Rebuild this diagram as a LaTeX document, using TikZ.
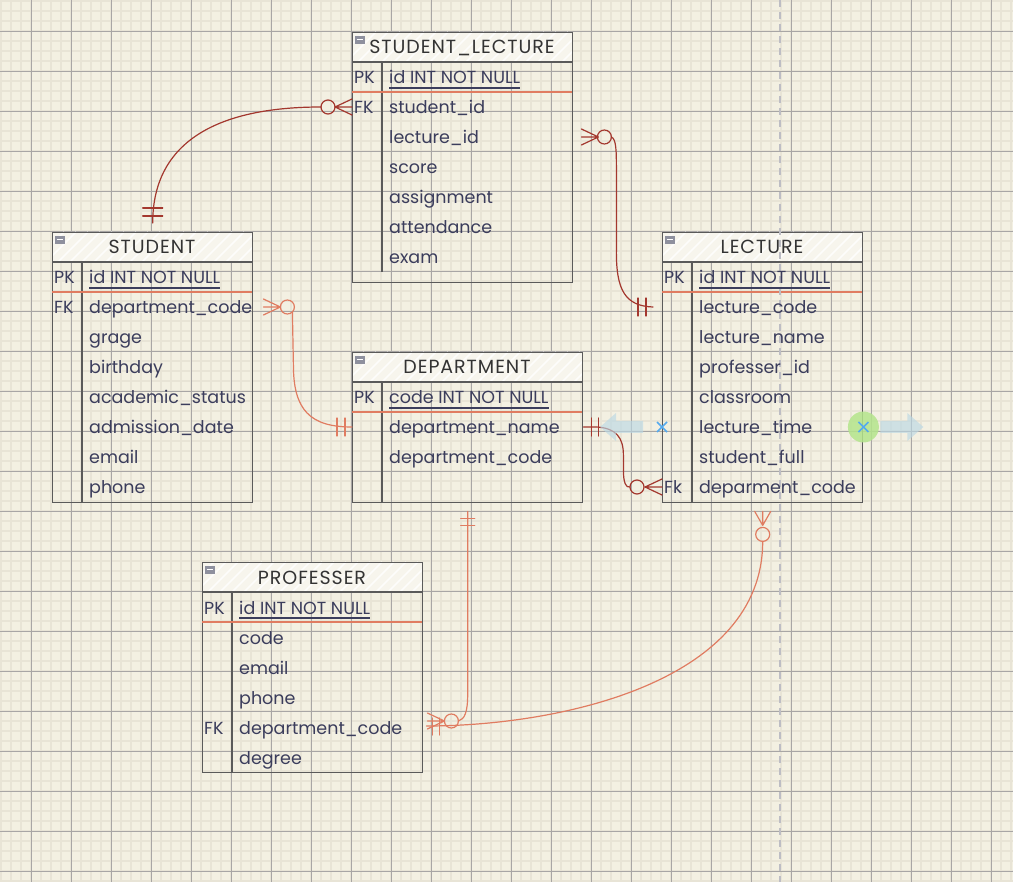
\documentclass[tikz,border=0pt]{standalone}
\usepackage{fontspec}
\setmainfont{Poppins}
\usetikzlibrary{calc}

\definecolor{paper}{HTML}{F3F0E2}
\definecolor{minorgrid}{HTML}{E8E4D6}
\definecolor{majorgrid}{HTML}{A8A6A5}
\definecolor{border}{HTML}{5A5A5A}
\definecolor{headfill}{HTML}{F7F5ED}
\definecolor{ink}{HTML}{3B3D5C}
\definecolor{titleink}{HTML}{333333}
\definecolor{relred}{HTML}{A3372E}
\definecolor{relsalmon}{HTML}{E07C61}
\definecolor{iconfill}{HTML}{8E909E}
\definecolor{hintblue}{HTML}{BBD8E4}
\definecolor{crossblue}{HTML}{55AAEE}
\definecolor{hotgreen}{HTML}{B4E58C}
\definecolor{guide}{HTML}{BDBDC4}

\newcommand\fieldfont{\fontsize{17.5}{20}\selectfont}
\newcommand\titlefont{\fontsize{19}{21}\selectfont\addfontfeature{LetterSpace=5}}

\tikzset{
  tbl/.style={draw=border, line width=1.4pt, rectangle, inner sep=0pt, anchor=north west},
  rule/.style={draw=border, line width=1.4pt},
  pkrule/.style={draw=relsalmon, line width=1.3pt},
  hatch/.style={draw=white, line width=1.6pt, opacity=0.8},
  fieldtxt/.style={anchor=base west, inner sep=0pt, text=ink, font=\fieldfont},
  titletxt/.style={anchor=base, inner sep=0pt, text=titleink, font=\titlefont},
  rel/.style={line width=1.2pt, line cap=round, fill=none},
  dark/.style={rel, draw=relred},
  soft/.style={rel, draw=relsalmon},
}

% table frame: name, x, y, width, height, title, bottom of the key column rule
\newcommand\ertable[7]{%
  \fill[headfill] (#2,#3) rectangle ++(#4,30);
  \begin{scope}
    \clip (#2,#3) rectangle ++(#4,30);
    \foreach \h in {-30,-18,...,260} \draw[hatch] ($(#2,#3)+(\h,30)$) -- ++(30,-30);
  \end{scope}
  \node[tbl, minimum width=#4pt, minimum height=#5pt] (#1) at (#2,#3) {};
  \draw[rule] (#2,#3+30) -- ++(#4,0);
  \draw[rule] (#2+30,#3+30) -- (#2+30,#7);
  \draw[pkrule] (#2,#3+60) -- ++(#4,0);
  \fill[iconfill] (#2+3,#3+4) rectangle ++(10,8);
  \draw[white, line width=1pt] (#2+5,#3+8) -- ++(6,0);
  \node[titletxt] (#1-title) at (#2+#4/2,#3+22) {#6};
}
% one field row: table, row number, text
\newcommand\erfield[3]{%
  \coordinate (#1-w#2) at ($(#1.north west)+(0,15+30*#2)$);
  \coordinate (#1-e#2) at ($(#1.north east)+(0,15+30*#2)$);
  \node[fieldtxt] (#1-f#2) at ($(#1.north west)+(37,22+30*#2)$) {#3};
}
% key label in the first column: table, row number, key
\newcommand\erkey[3]{%
  \node[fieldtxt] (#1-k#2) at ($(#1.north west)+(2,22+30*#2)$) {#3};
}
% underline of the primary key field
\newcommand\erpk[1]{%
  \draw[ink, line width=1.4pt] ($(#1-f1.base west)+(0,4)$) -- ($(#1-f1.base east)+(0,4)$);
}

\begin{document}
\begin{tikzpicture}[x=1pt, y=-1pt]
  \useasboundingbox (0,0) rectangle (1013,882);
  \fill[paper] (0,0) rectangle (1013,882);

  % paper grid
  \foreach \g in {1,11,...,1011} \draw[minorgrid, line width=1.8pt] (\g,0) -- (\g,882);
  \foreach \g in {1,11,...,881} \draw[minorgrid, line width=1.8pt] (0,\g) -- (1013,\g);
  \foreach \g in {31,71,...,1011} \draw[majorgrid, line width=0.9pt] (\g,0) -- (\g,882);
  \foreach \g in {31,71,...,871} \draw[majorgrid, line width=0.9pt] (0,\g) -- (1013,\g);

  % tables
  \ertable{sl}{352}{32}{220}{250}{STUDENT\_LECTURE}{272}
  \ertable{stu}{52}{232}{200}{270}{STUDENT}{502}
  \ertable{dep}{352}{352}{230}{150}{DEPARTMENT}{502}
  \ertable{lec}{662}{232}{200}{270}{LECTURE}{502}
  \ertable{prof}{202}{562}{220}{210}{PROFESSER}{772}

  % vertical guide
  \draw[guide, line width=1.5pt, dash pattern=on 7pt off 5pt] (780,0) -- (780,882);

  % STUDENT_LECTURE
  \erfield{sl}{1}{id INT NOT NULL}\erkey{sl}{1}{PK}\erpk{sl}
  \erfield{sl}{2}{student\_id}\erkey{sl}{2}{FK}
  \erfield{sl}{3}{lecture\_id}
  \erfield{sl}{4}{score}
  \erfield{sl}{5}{assignment}
  \erfield{sl}{6}{attendance}
  \erfield{sl}{7}{exam}

  % STUDENT
  \erfield{stu}{1}{id INT NOT NULL}\erkey{stu}{1}{PK}\erpk{stu}
  \erfield{stu}{2}{department\_code}\erkey{stu}{2}{FK}
  \erfield{stu}{3}{grage}
  \erfield{stu}{4}{birthday}
  \erfield{stu}{5}{academic\_status}
  \erfield{stu}{6}{admission\_date}
  \erfield{stu}{7}{email}
  \erfield{stu}{8}{phone}

  % DEPARTMENT
  \erfield{dep}{1}{code INT NOT NULL}\erkey{dep}{1}{PK}\erpk{dep}
  \erfield{dep}{2}{department\_name}
  \erfield{dep}{3}{department\_code}

  % LECTURE
  \erfield{lec}{1}{id INT NOT NULL}\erkey{lec}{1}{PK}\erpk{lec}
  \erfield{lec}{2}{lecture\_code}
  \erfield{lec}{3}{lecture\_name}
  \erfield{lec}{4}{professer\_id}
  \erfield{lec}{5}{classroom}
  \erfield{lec}{6}{lecture\_time}
  \erfield{lec}{7}{student\_full}
  \erfield{lec}{8}{deparment\_code}\erkey{lec}{8}{Fk}

  % PROFESSER
  \erfield{prof}{1}{id INT NOT NULL}\erkey{prof}{1}{PK}\erpk{prof}
  \erfield{prof}{2}{code}
  \erfield{prof}{3}{email}
  \erfield{prof}{4}{phone}
  \erfield{prof}{5}{department\_code}\erkey{prof}{5}{FK}
  \erfield{prof}{6}{degree}

  % STUDENT (one) -- STUDENT_LECTURE.student_id (zero or many)
  \draw[dark] ($(stu.north)+(0,-9)$) .. controls ($(stu.north)+(0,-92)$) and ($(sl-w2)+(-132,0)$) .. ($(sl-w2)+(-31,0)$);
  \draw[dark] ($(stu.north)+(-10,-16)$) -- ++(20,0) ($(stu.north)+(-10,-24)$) -- ++(20,0);
  \draw[dark] ($(sl-w2)+(-24,0)$) circle[radius=7];
  \draw[dark] ($(sl-w2)+(-17,0)$) -- (sl-w2) ($(sl-w2)+(-17,0)$) -- ($(sl-w2)+(0,-8)$) ($(sl-w2)+(-17,0)$) -- ($(sl-w2)+(0,8)$);

  % STUDENT_LECTURE.lecture_id (zero or many) -- LECTURE (one)
  \draw[dark] ($(sl-e3)+(8,-8)$) -- ($(sl-e3)+(25,0)$) ($(sl-e3)+(8,0)$) -- ($(sl-e3)+(25,0)$) ($(sl-e3)+(8,8)$) -- ($(sl-e3)+(25,0)$);
  \draw[dark] ($(sl-e3)+(31,0)$) circle[radius=7];
  \draw[dark] ($(sl-e3)+(38,0)$) .. controls ($(sl-e3)+(43,2)$) and ($(sl-e3)+(43,15)$) .. ($(sl-e3)+(43,33)$)
    -- ($(sl-e3)+(43,113)$) .. controls ($(lec-w2)+(-46,-17)$) and ($(lec-w2)+(-37,-1)$) .. ($(lec-w2)+(-9,0)$);
  \draw[dark] ($(lec-w2)+(-24,-9)$) -- ++(0,18) ($(lec-w2)+(-16,-9)$) -- ++(0,18);

  % STUDENT.department_code (zero or many) -- DEPARTMENT (one)
  \draw[soft] ($(stu-e2)+(10,-8)$) -- ($(stu-e2)+(27,0)$) ($(stu-e2)+(10,0)$) -- ($(stu-e2)+(27,0)$) ($(stu-e2)+(10,8)$) -- ($(stu-e2)+(27,0)$);
  \draw[soft] ($(stu-e2)+(34,0)$) circle[radius=7];
  \draw[soft] ($(stu-e2)+(39,5)$) -- ($(stu-e2)+(40,58)$) .. controls ($(stu-e2)+(40,103)$) and ($(dep-w2)+(-42,0)$) .. (dep-w2);
  \draw[soft] ($(dep-w2)+(-15,-9)$) -- ++(0,18) ($(dep-w2)+(-7,-9)$) -- ++(0,18);

  % DEPARTMENT (one) -- LECTURE.deparment_code (zero or many)
  \draw[dark] (dep-e2) -- ($(dep-e2)+(13,0)$) .. controls ($(dep-e2)+(33,1)$) and ($(dep-e2)+(40,11)$) .. ($(dep-e2)+(40,28)$)
    -- ($(dep-e2)+(40,43)$) .. controls ($(dep-e2)+(40,56)$) and ($(lec-w8)+(-36,1)$) .. ($(lec-w8)+(-32,0)$);
  \draw[dark] ($(dep-e2)+(8,-9)$) -- ++(0,18) ($(dep-e2)+(15,-9)$) -- ++(0,18);
  \draw[dark] ($(lec-w8)+(-25,0)$) circle[radius=7];
  \draw[dark] ($(lec-w8)+(-17,0)$) -- (lec-w8) ($(lec-w8)+(-17,0)$) -- ($(lec-w8)+(0,-8)$) ($(lec-w8)+(-17,0)$) -- ($(lec-w8)+(0,8)$);

  % DEPARTMENT (one) -- PROFESSER.department_code (zero or many)
  \draw[soft] ($(dep.south)+(-7,15)$) -- ++(14,0) ($(dep.south)+(-7,22)$) -- ++(14,0);
  \draw[soft] ($(dep.south)+(0,8)$) -- ($(dep.south)+(0,190)$) .. controls ($(dep.south)+(0,210)$) and ($(prof-e5)+(41,-8)$) .. ($(prof-e5)+(35,-6)$);
  \draw[soft] ($(prof-e5)+(28,-6)$) circle[radius=7];
  \draw[soft] ($(prof-e5)+(21,-6)$) -- ($(prof-e5)+(4,-14)$) ($(prof-e5)+(21,-6)$) -- ($(prof-e5)+(4,-6)$) ($(prof-e5)+(21,-6)$) -- ($(prof-e5)+(4,2)$);

  % LECTURE (zero or many) -- PROFESSER (one)
  \draw[soft] ($(lec.south)+(-8,8)$) -- ($(lec.south)+(0,22)$) ($(lec.south)+(0,8)$) -- ($(lec.south)+(0,22)$) ($(lec.south)+(8,8)$) -- ($(lec.south)+(0,22)$);
  \draw[soft] ($(lec.south)+(0,31)$) circle[radius=7];
  \draw[soft] ($(lec.south)+(0,38)$) .. controls ($(lec.south)+(0,178)$) and ($(prof-e5)+(138,-1)$) .. ($(prof-e5)+(3,-1)$);
  \draw[soft] ($(prof-e5)+(9,-9)$) -- ++(0,17) ($(prof-e5)+(16,-9)$) -- ++(0,17);

  % hover handles on lecture_time
  \fill[hintblue, opacity=0.65] ($(lec-w6)+(-62,0)$) -- ++(16,-14) -- ++(0,8) -- ++(27,0) -- ++(0,12) -- ++(-27,0) -- ++(0,8) -- cycle;
  \fill[hintblue, opacity=0.65] ($(lec-e6)+(60,0)$) -- ++(-16,-14) -- ++(0,8) -- ++(-27,0) -- ++(0,12) -- ++(27,0) -- ++(0,8) -- cycle;
  \fill[hotgreen, opacity=0.85] (lec-e6) circle[radius=15.5];
  \draw[crossblue, line width=1.6pt] ($(lec-w6)+(-5,-5)$) -- ++(10,10) ($(lec-w6)+(-5,5)$) -- ++(10,-10);
  \draw[crossblue, line width=1.6pt] ($(lec-e6)+(-5,-5)$) -- ++(10,10) ($(lec-e6)+(-5,5)$) -- ++(10,-10);
\end{tikzpicture}
\end{document}
